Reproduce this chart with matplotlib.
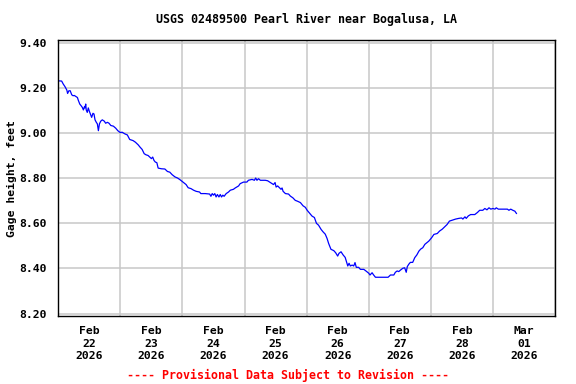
import datetime as dt

import matplotlib
matplotlib.use('Agg')
import matplotlib.pyplot as plt
import matplotlib.dates as mdates

# gage readings, hours after 2026-02-22 00:00 and height in feet
hours = [0, 1.3, 1.9, 2.6, 3.3, 3.6, 4.1, 4.6, 5.2, 5.7, 6.2, 6.9, 7.4, 7.7, 8.3,
         8.8, 9.3, 9.7, 10.1, 10.3, 10.6, 10.8, 11.2, 11.6, 12.0, 12.4, 12.9, 13.4,
         13.8, 14.2, 14.7, 15.1, 15.5, 15.9, 16.4, 17.0, 17.8, 18.3, 19.0, 19.6,
         20.3, 21.3, 22.2, 23.0, 23.9, 24.7, 25.7, 26.7, 27.6, 28.9, 29.8, 30.9,
         31.6, 32.4, 33.2, 33.9, 34.7, 35.5, 36.0, 36.5, 37.0, 37.5, 38.1, 38.6,
         39.9, 41.2, 42.2, 43.1, 44.0, 45.1, 46.1, 47.0, 48.4, 49.4, 50.2, 51.3,
         52.3, 53.3, 54.6, 55.1, 56.8, 58.5, 59.0, 59.5, 60.0, 60.5, 61.0, 61.5,
         62.1, 62.6, 63.1, 63.6, 64.1, 64.9, 65.8, 66.5, 67.7, 68.4, 69.7, 70.3,
         71.6, 72.9, 73.5, 74.9, 75.8, 76.3, 76.8, 77.4, 78.1, 80.0, 80.9, 81.7,
         82.6, 83.2, 83.8, 84.2, 84.8, 85.6, 86.1, 86.5, 86.9, 87.8, 89.0, 89.7,
         90.7, 91.6, 92.5, 93.6, 94.6, 95.5, 96.2, 97.2, 98.1, 99.0, 99.8, 100.6,
         101.6, 102.3, 103.2, 103.9, 104.5, 105.4, 106.5, 107.2, 108.0, 108.5,
         109.3, 110.1, 110.9, 111.4, 111.9, 112.4, 112.9, 113.6, 114.2, 114.7,
         115.2, 116.1, 116.8, 118.1, 118.8, 120.0, 120.5, 121.3, 121.9, 122.6,
         124.5, 126.5, 127.5, 128.4, 129.7, 130.3, 131.0, 131.6, 132.3, 133.2,
         133.9, 134.5, 134.9, 135.5, 136.1, 137.0, 137.8, 138.6, 139.4, 140.1,
         140.9, 141.7, 143.2, 144.3, 145.2, 146.5, 147.4, 148.4, 149.4, 150.3,
         151.2, 152.3, 153.6, 154.8, 155.9, 156.4, 157.2, 157.7, 158.5, 159.4,
         161.0, 162.0, 162.9, 164.1, 164.9, 165.7, 166.5, 167.2, 168.0, 168.8,
         169.3, 170.1, 171.6, 173.6, 174.2, 174.9, 175.7, 176.5, 177.1]
gage = [9.232, 9.231, 9.218, 9.206, 9.191, 9.176, 9.188, 9.188, 9.170, 9.166, 9.167,
        9.162, 9.158, 9.147, 9.129, 9.122, 9.114, 9.103, 9.117, 9.112, 9.129, 9.103,
        9.092, 9.112, 9.097, 9.085, 9.070, 9.088, 9.085, 9.059, 9.048, 9.041, 9.011,
        9.041, 9.053, 9.059, 9.053, 9.044, 9.048, 9.044, 9.034, 9.031, 9.022, 9.011,
        9.003, 9.004, 8.997, 8.992, 8.972, 8.967, 8.960, 8.948, 8.938, 8.928, 8.909,
        8.904, 8.901, 8.892, 8.887, 8.894, 8.879, 8.872, 8.869, 8.845, 8.842, 8.841,
        8.830, 8.827, 8.816, 8.806, 8.801, 8.794, 8.781, 8.772, 8.758, 8.754, 8.747,
        8.742, 8.739, 8.732, 8.732, 8.730, 8.720, 8.732, 8.725, 8.732, 8.717, 8.728,
        8.717, 8.728, 8.717, 8.725, 8.720, 8.732, 8.739, 8.747, 8.751, 8.757, 8.766,
        8.776, 8.783, 8.783, 8.791, 8.795, 8.791, 8.801, 8.791, 8.798, 8.791, 8.791,
        8.789, 8.783, 8.776, 8.772, 8.781, 8.761, 8.766, 8.757, 8.751, 8.757, 8.742,
        8.732, 8.730, 8.721, 8.713, 8.702, 8.698, 8.692, 8.678, 8.671, 8.658, 8.644,
        8.632, 8.626, 8.600, 8.592, 8.573, 8.563, 8.552, 8.533, 8.511, 8.485, 8.479,
        8.470, 8.455, 8.467, 8.474, 8.460, 8.449, 8.430, 8.411, 8.423, 8.411, 8.415,
        8.411, 8.426, 8.405, 8.405, 8.396, 8.396, 8.390, 8.379, 8.371, 8.381, 8.371,
        8.361, 8.361, 8.361, 8.361, 8.371, 8.371, 8.383, 8.389, 8.386, 8.393, 8.401,
        8.403, 8.383, 8.408, 8.419, 8.427, 8.427, 8.448, 8.460, 8.477, 8.486, 8.492,
        8.507, 8.521, 8.536, 8.551, 8.555, 8.566, 8.574, 8.585, 8.595, 8.610, 8.614,
        8.619, 8.622, 8.624, 8.619, 8.629, 8.622, 8.633, 8.639, 8.639, 8.648, 8.658,
        8.658, 8.666, 8.660, 8.669, 8.663, 8.666, 8.663, 8.669, 8.663, 8.663, 8.663,
        8.658, 8.663, 8.658, 8.654, 8.644]
y_ticks = [8.20, 8.40, 8.60, 8.80, 9.00, 9.20, 9.40]

start = dt.datetime(2026, 2, 22)
end = dt.datetime(2026, 3, 2)
times = [start + dt.timedelta(hours=h) for h in hours]

mono = 'DejaVu Sans Mono'
fs = 8.2

fig = plt.figure(figsize=(5.76, 3.84), dpi=100)
ax = fig.add_axes([0.1012, 0.1758, 0.8623, 0.7200])

ax.plot(times, gage, color='#0000ff', lw=0.9)

ax.set_xlim(start, end)
ax.set_ylim(8.187, 9.413)
ax.set_yticks(y_ticks)
ax.set_yticklabels(['%.2f' % v for v in y_ticks], fontfamily=mono,
                   fontweight='bold', fontsize=fs)

# labels at noon, grid lines at midnight
ax.xaxis.set_major_locator(mdates.HourLocator(byhour=[12]))
ax.xaxis.set_major_formatter(mdates.DateFormatter('%b\n%d\n%Y'))
ax.xaxis.set_minor_locator(mdates.DayLocator())
for lab in ax.get_xticklabels():
    lab.set_fontfamily(mono)
    lab.set_fontweight('bold')
    lab.set_fontsize(fs)
    lab.set_linespacing(1.3)

ax.tick_params(axis='both', which='both', length=0)
ax.tick_params(axis='y', pad=8)
ax.tick_params(axis='x', pad=7)

ax.grid(True, which='minor', axis='x', color='#c8c8c8', lw=1.1)
ax.grid(True, which='major', axis='y', color='#c8c8c8', lw=1.1)
ax.set_axisbelow(True)
for sp in ax.spines.values():
    sp.set_color('black')
    sp.set_linewidth(1.0)

ax.set_title('USGS 02489500 Pearl River near Bogalusa, LA', fontfamily=mono,
             fontweight='bold', fontsize=fs + 0.2, pad=12)
ax.set_ylabel('Gage height, feet', fontfamily=mono, fontweight='bold',
              fontsize=fs)
ax.yaxis.set_label_coords(-0.083, 0.5)

fig.text(0.5, 0.023, '---- Provisional Data Subject to Revision ----',
         color='red', ha='center', va='center', fontfamily=mono,
         fontweight='bold', fontsize=fs + 0.2)

fig.savefig('out.png', dpi=100)
